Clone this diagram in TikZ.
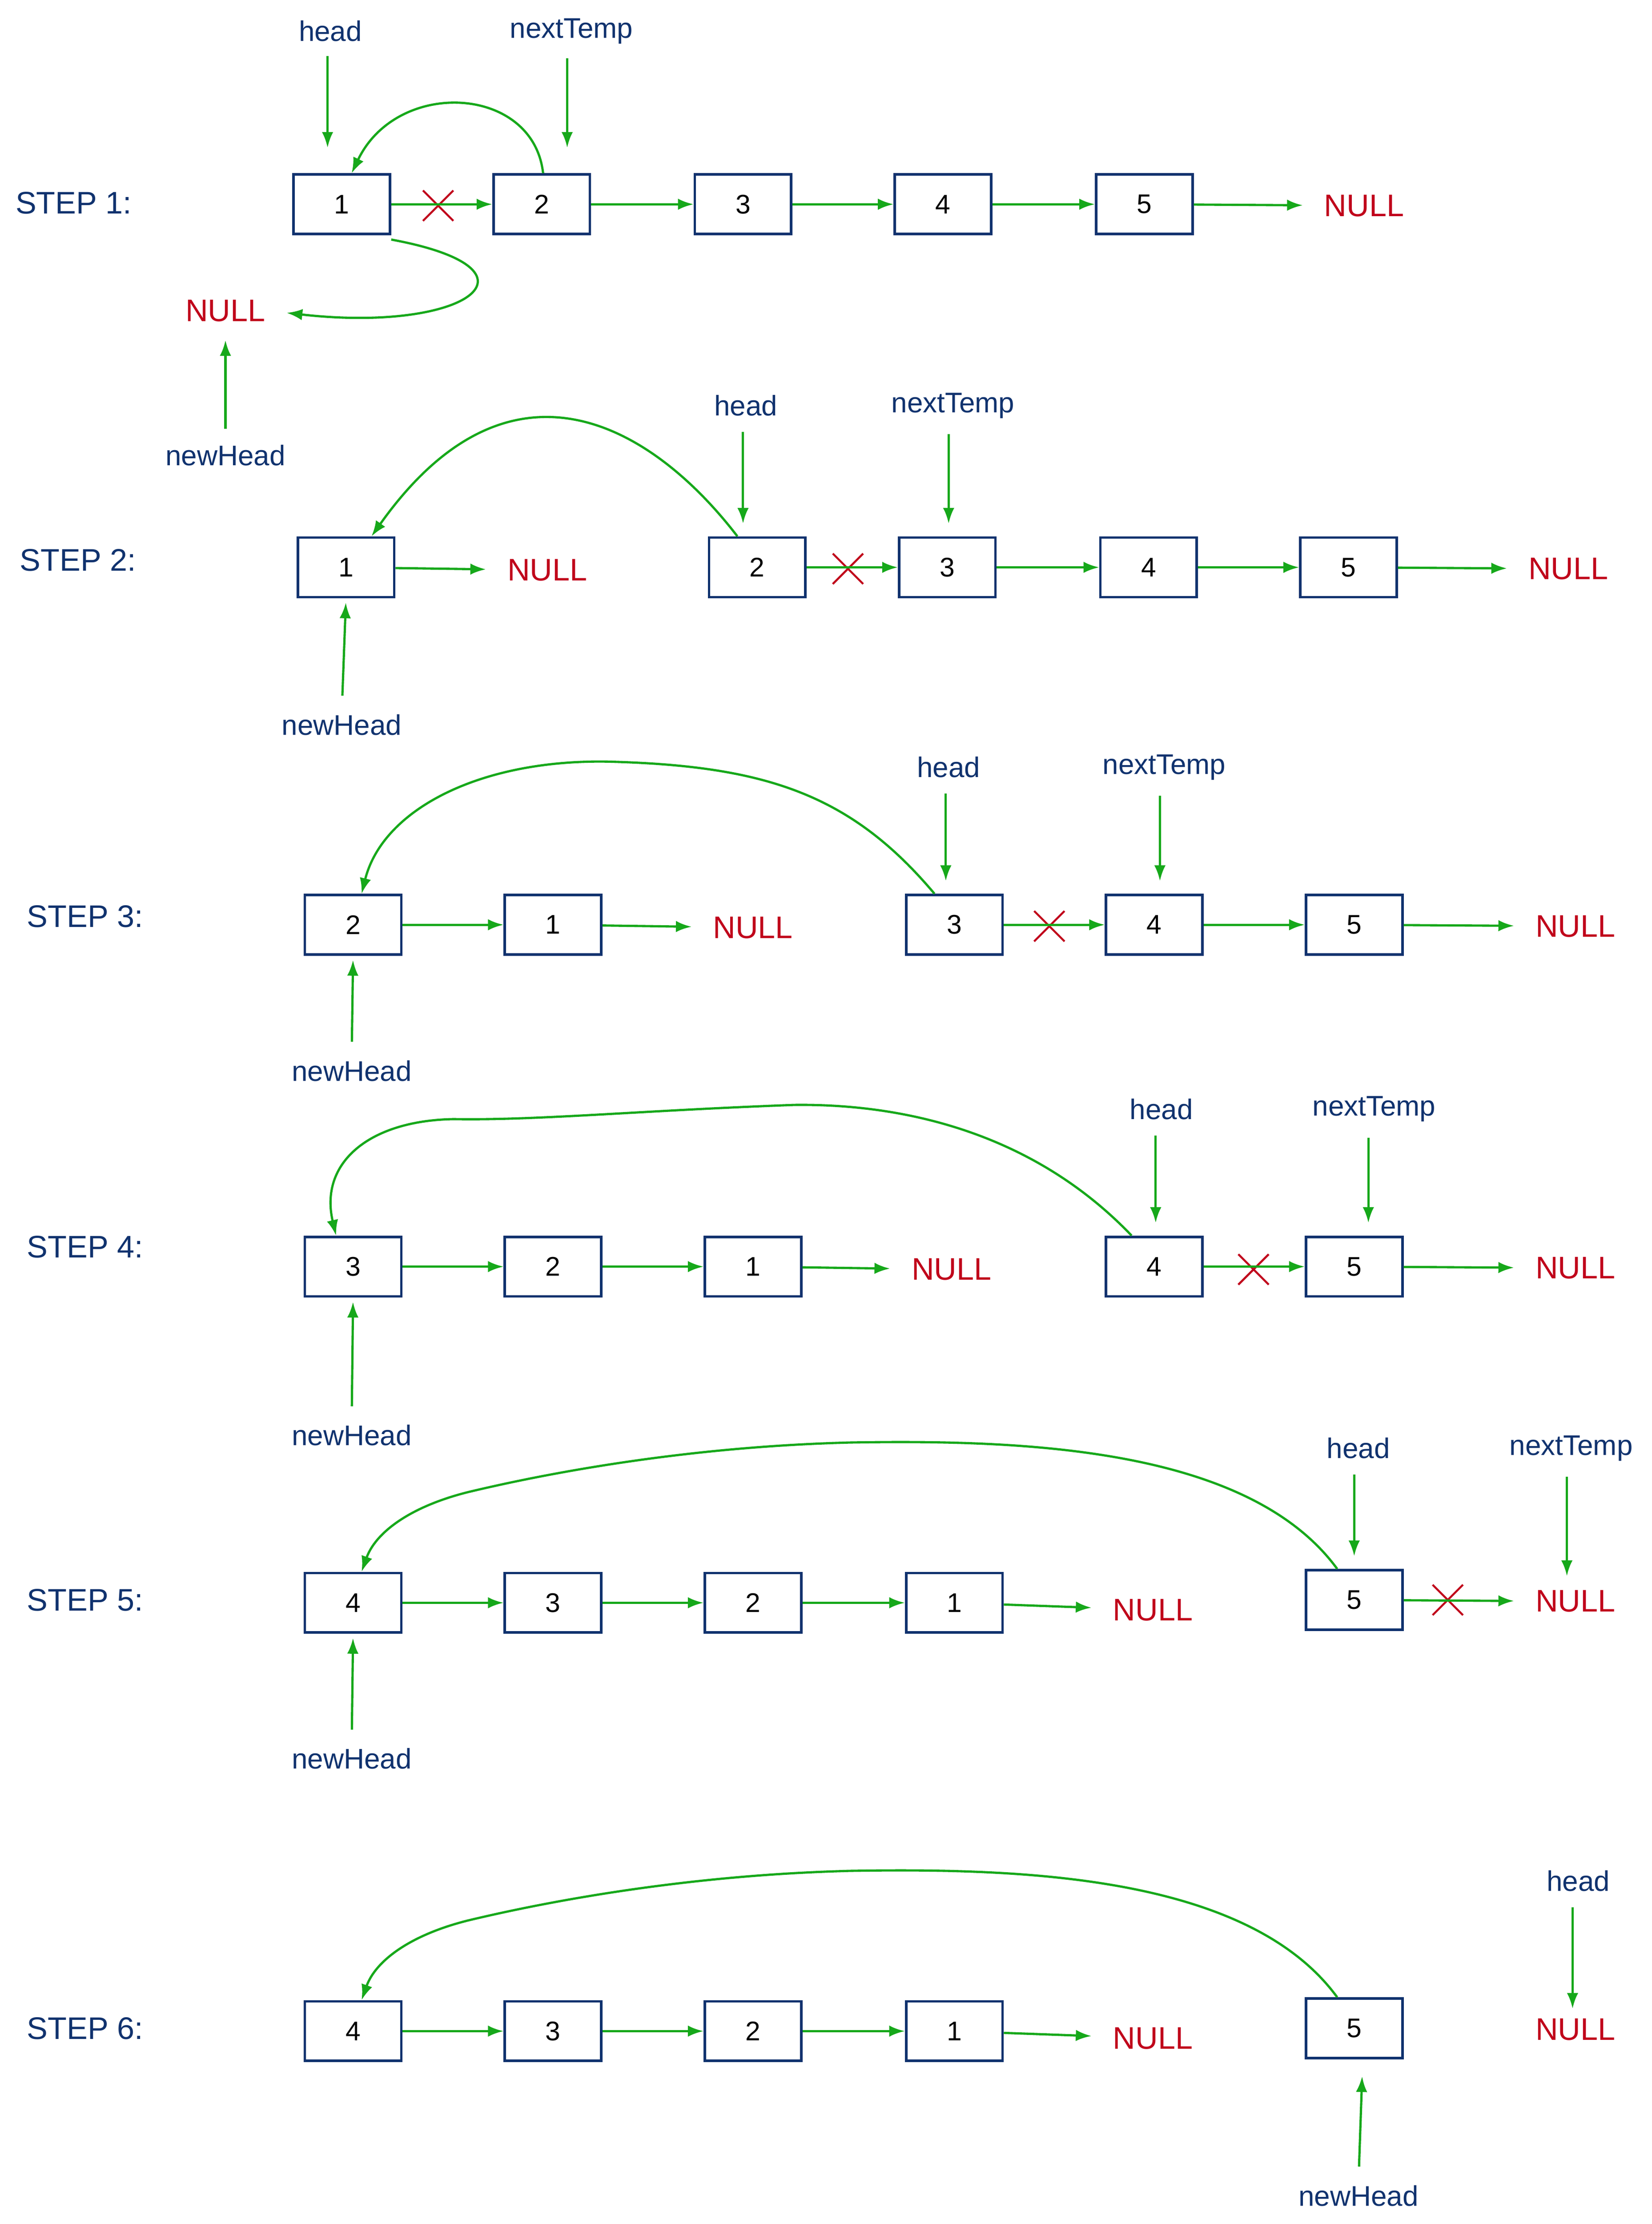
\documentclass[tikz,border=0pt]{standalone}
\usepackage{fontspec}
\setmainfont{Liberation Sans}
\usetikzlibrary{arrows.meta,shapes.misc}
\definecolor{nav}{RGB}{16,50,110}
\definecolor{grn}{RGB}{22,168,26}
\definecolor{rd}{RGB}{192,0,26}
\begin{document}
\begin{tikzpicture}[x=1pt,y=-1pt,
 box/.style={draw=nav,line width=1.8pt,minimum width=68pt,minimum height=42pt,inner sep=0pt,font=\fontsize{19}{21}\selectfont},
 lab/.style={text=nav,font=\fontsize{20}{24}\selectfont,inner sep=1pt},
 nul/.style={text=rd,font=\fontsize{22}{26}\selectfont,inner sep=1pt},
 stp/.style={text=nav,font=\fontsize{22}{26}\selectfont,inner sep=0pt},
 arr/.style={draw=grn,line width=1.6pt,-{Latex[length=11pt,width=8pt]}},
 na/.style={arr,shorten >=14pt},
 xx/.style={draw=rd,cross out,line width=1.4pt,minimum size=20pt,inner sep=0pt}]
\useasboundingbox (0,0) rectangle (1165,1568);
% STEP 1
\node[stp] (s1) at (52,143) {STEP 1:};
\foreach \i/\x in {1/241,2/382,3/524,4/665,5/807} \node[box] (a\i) at (\x,144) {\i};
\node[nul] (an) at (962,145) {NULL};
\node[nul] (an0) at (159,219) {NULL};
\node[lab] (ah) at (233,22) {head};
\node[lab] (at) at (403,22) {nextTemp};
\node[lab] (anh) at (159,321) {newHead};
\node[xx] (ax) at (309,145) {};
\draw[arr,shorten <=9pt,shorten >=18pt] ([xshift=-2pt]ah.south) -- ([xshift=-10pt]a1.north);
\draw[arr,shorten <=9pt,shorten >=18pt] ([xshift=-3pt]at.south) -- ([xshift=18pt]a2.north);
\draw[arr] (a1) -- (a2);
\foreach \i/\j in {2/3,3/4,4/5} \draw[arr] (a\i) -- (a\j);
\draw[na] (a5) -- (an);
\draw[arr] ([xshift=1pt]a2.north) .. controls (376,60) and (280,55) .. ([xshift=7pt]a1.north);
\draw[na] ([yshift=-3pt]a1.south east) .. controls (390,190) and (330,235) .. (an0.east);
\draw[arr,shorten <=10pt,shorten >=12pt] (anh.north) -- (an0.south);
% STEP 2
\node[stp] (s2) at (55,395) {STEP 2:};
\foreach \i/\x in {1/244,2/534,3/668,4/810,5/951} \node[box] (b\i) at (\x,400) {\i};
\node[nul] (bn1) at (386,402) {NULL};
\node[nul] (bn) at (1106,401) {NULL};
\node[lab] (bh) at (526,286) {head};
\node[lab] (bt) at (672,286) {nextTemp};
\node[lab] (bnh) at (241,511) {newHead};
\node[xx] (bx) at (598,401) {};
\draw[arr,shorten <=10pt,shorten >=9pt] ([xshift=-2pt]bh.south) -- ([xshift=-10pt]b2.north);
\draw[arr,shorten <=10pt,shorten >=9pt] ([xshift=-3pt]bt.south) -- ([xshift=1pt]b3.north);
\draw[na] (b1) -- (bn1);
\foreach \i/\j in {2/3,3/4,4/5} \draw[arr] (b\i) -- (b\j);
\draw[na] (b5) -- (bn);
\draw[arr] ([xshift=-14pt]b2.north) .. controls (460,300) and (360,240) .. ([xshift=18pt]b1.north);
\draw[arr,shorten <=12pt,shorten >=3pt] (bnh.north) -- (b1.south);
% STEP 3
\node[stp] (s3) at (60,646) {STEP 3:};
\foreach \n/\x in {2/249,1/390,3/673,4/814,5/955} \node[box] (c\n) at (\x,652) {\n};
\node[nul] (cn1) at (531,654) {NULL};
\node[nul] (cn) at (1111,653) {NULL};
\node[lab] (ch) at (669,541) {head};
\node[lab] (ct) at (821,541) {nextTemp};
\node[lab] (cnh) at (248,755) {newHead};
\node[xx] (cx) at (740,653) {};
\draw[arr,shorten <=10pt,shorten >=9pt] ([xshift=-2pt]ch.south) -- ([xshift=-6pt]c3.north);
\draw[arr,shorten <=10pt,shorten >=9pt] ([xshift=-3pt]ct.south) -- ([xshift=4pt]c4.north);
\draw[arr] (c2) -- (c1); \draw[na] (c1) -- (cn1);
\draw[arr] (c3) -- (c4); \draw[arr] (c4) -- (c5); \draw[na] (c5) -- (cn);
\draw[arr] ([xshift=-14pt]c3.north) .. controls (600,560) and (540,540) .. (430,537)
  .. controls (340,535) and (270,570) .. ([xshift=6pt]c2.north);
\draw[arr,shorten <=12pt,shorten >=3pt] (cnh.north) -- (c2.south);
% STEP 4
\node[stp] (s4) at (60,879) {STEP 4:};
\foreach \n/\x in {3/249,2/390,1/531,4/814,5/955} \node[box] (d\n) at (\x,893) {\n};
\node[nul] (dn1) at (671,895) {NULL};
\node[nul] (dn) at (1111,894) {NULL};
\node[lab] (dh) at (819,782) {head};
\node[lab] (dt) at (969,782) {nextTemp};
\node[lab] (dnh) at (248,1012) {newHead};
\node[xx] (dx) at (884,895) {};
\draw[arr,shorten <=10pt,shorten >=9pt] ([xshift=-4pt]dh.south) -- ([xshift=1pt]d4.north);
\draw[arr,shorten <=10pt,shorten >=9pt] ([xshift=-4pt]dt.south) -- ([xshift=10pt]d5.north);
\draw[arr] (d3) -- (d2); \draw[arr] (d2) -- (d1); \draw[na] (d1) -- (dn1);
\draw[arr] (d4) -- (d5); \draw[na] (d5) -- (dn);
\draw[arr] ([xshift=-16pt]d4.north) .. controls (730,800) and (640,778) .. (560,779)
  .. controls (450,783) and (380,790) .. (320,789) .. controls (260,790) and (225,820) .. ([xshift=-12pt]d3.north);
\draw[arr,shorten <=12pt,shorten >=3pt] (dnh.north) -- (d3.south);
% STEP 5
\node[stp] (s5) at (60,1128) {STEP 5:};
\foreach \n/\x in {4/249,3/390,2/531,1/673} \node[box] (e\n) at (\x,1130) {\n};
\node[box] (e5) at (955,1128) {5};
\node[nul] (en1) at (813,1135) {NULL};
\node[nul] (en) at (1111,1129) {NULL};
\node[lab] (eh) at (958,1021) {head};
\node[lab] (et) at (1108,1021) {nextTemp};
\node[lab] (enh) at (248,1240) {newHead};
\node[xx] (ex) at (1021,1128) {};
\draw[arr,shorten <=10pt,shorten >=9pt] ([xshift=-3pt]eh.south) -- (e5.north);
\draw[arr,shorten <=10pt,shorten >=9pt] ([xshift=-3pt]et.south) -- ([xshift=-6pt]en.north);
\draw[arr] (e4) -- (e3); \draw[arr] (e3) -- (e2); \draw[arr] (e2) -- (e1); \draw[na] (e1) -- (en1);
\draw[na] (e5) -- (en);
\draw[arr] ([xshift=-12pt]e5.north) .. controls (880,1020) and (720,1015) .. (600,1017)
  .. controls (480,1020) and (380,1040) .. (330,1052) .. controls (290,1062) and (265,1080) .. ([xshift=6pt]e4.north);
\draw[arr,shorten <=12pt,shorten >=3pt] (enh.north) -- (e4.south);
% STEP 6
\node[stp] (s6) at (60,1430) {STEP 6:};
\foreach \n/\x in {4/249,3/390,2/531,1/673} \node[box] (f\n) at (\x,1432) {\n};
\node[box] (f5) at (955,1430) {5};
\node[nul] (fn1) at (813,1437) {NULL};
\node[nul] (fn) at (1111,1431) {NULL};
\node[lab] (fh) at (1113,1326) {head};
\node[lab] (fnh) at (958,1548) {newHead};
\draw[arr,shorten <=10pt,shorten >=6pt] ([xshift=-4pt]fh.south) -- ([xshift=-2pt]fn.north);
\draw[arr] (f4) -- (f3); \draw[arr] (f3) -- (f2); \draw[arr] (f2) -- (f1); \draw[na] (f1) -- (fn1);
\draw[arr] ([xshift=-12pt]f5.north) .. controls (880,1322) and (720,1317) .. (600,1319)
  .. controls (480,1322) and (380,1342) .. (330,1354) .. controls (290,1364) and (265,1382) .. ([xshift=6pt]f4.north);
\draw[arr,shorten <=12pt,shorten >=12pt] (fnh.north) -- ([xshift=6pt]f5.south);
\end{tikzpicture}
\end{document}
